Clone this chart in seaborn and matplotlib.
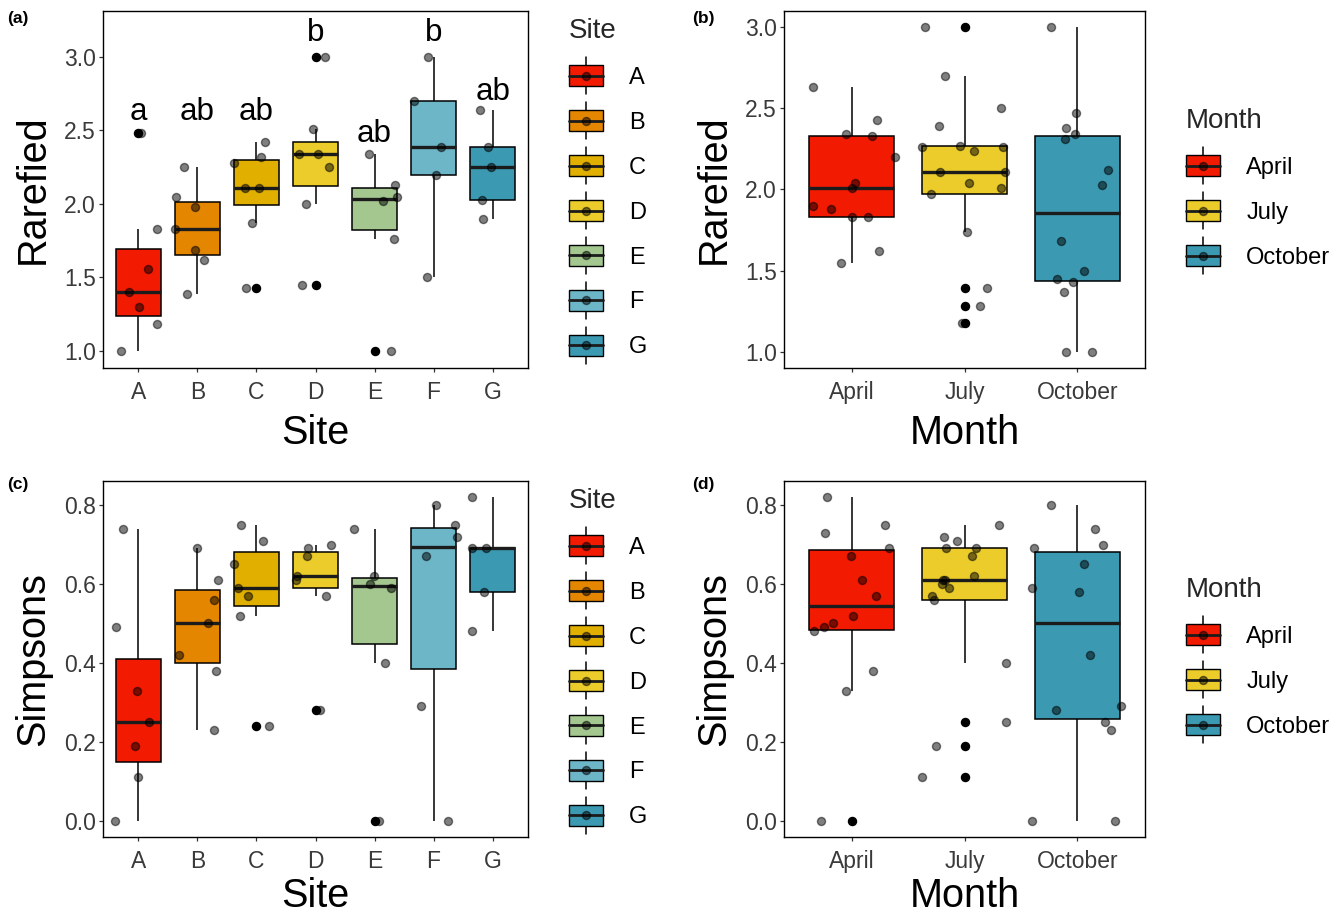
import numpy as np
import pandas as pd
import matplotlib
matplotlib.use("Agg")
import matplotlib.pyplot as plt
import seaborn as sns
from matplotlib.legend_handler import HandlerBase
from matplotlib.patches import Rectangle, Patch
from matplotlib.lines import Line2D

# ---------------- data ----------------
sites = ["A", "B", "C", "D", "E", "F", "G"]
months = ["April", "July", "October"]

site_colors = ["#F21A00", "#E58601", "#E1AF00", "#EBCC2A", "#A3C78F", "#6DB6C8", "#3B9AB2"]
month_colors = ["#F21A00", "#EBCC2A", "#3B9AB2"]

rarefied_by_site = [
    [2.48, 1.56, 1.40, 1.30, 1.83, 1.18, 1.00],
    [2.25, 2.05, 1.98, 1.83, 1.69, 1.62, 1.39],
    [2.42, 2.32, 2.28, 2.11, 2.11, 1.87, 1.43],
    [3.00, 2.51, 2.34, 2.34, 2.25, 2.00, 1.45],
    [2.34, 2.13, 2.05, 2.02, 1.76, 1.00],
    [3.00, 2.70, 2.39, 2.20, 1.50],
    [2.64, 2.39, 2.25, 2.03, 1.90],
]
rarefied_by_month = [
    [2.63, 2.43, 2.34, 2.33, 2.20, 2.04, 2.01, 1.90, 1.88, 1.83, 1.83, 1.62, 1.55],
    [3.00, 2.70, 2.50, 2.39, 2.27, 2.26, 2.26, 2.24, 2.11, 2.11, 2.04, 2.01, 1.97,
     1.74, 1.39, 1.28, 1.18],
    [3.00, 2.47, 2.38, 2.34, 2.31, 2.12, 2.03, 1.68, 1.50, 1.45, 1.43, 1.37, 1.00, 1.00],
]
simpsons_by_site = [
    [0.74, 0.49, 0.33, 0.25, 0.19, 0.11, 0.00],
    [0.69, 0.61, 0.56, 0.50, 0.42, 0.38, 0.23],
    [0.75, 0.71, 0.65, 0.59, 0.57, 0.52, 0.24],
    [0.70, 0.69, 0.67, 0.62, 0.61, 0.57, 0.28],
    [0.74, 0.62, 0.60, 0.59, 0.40, 0.00],
    [0.80, 0.75, 0.72, 0.67, 0.29, 0.00],
    [0.82, 0.69, 0.69, 0.58, 0.48],
]
simpsons_by_month = [
    [0.82, 0.75, 0.73, 0.69, 0.67, 0.61, 0.57, 0.52, 0.50, 0.49, 0.48, 0.38, 0.33, 0.00],
    [0.75, 0.72, 0.71, 0.69, 0.69, 0.67, 0.62, 0.61, 0.61, 0.60, 0.59, 0.57, 0.56,
     0.40, 0.25, 0.19, 0.11],
    [0.80, 0.74, 0.70, 0.69, 0.65, 0.59, 0.58, 0.42, 0.29, 0.28, 0.25, 0.23, 0.00, 0.00],
]

# significance letters over the site boxes and the height they sit at
site_letters = ["a", "ab", "ab", "b", "ab", "b", "ab"]
letter_heights = [2.57, 2.57, 2.57, 3.11, 2.42, 3.11, 2.71]


def long_frame(groups, labels, gname, vname):
    rows = [(lab, v) for lab, vals in zip(labels, groups) for v in vals]
    return pd.DataFrame(rows, columns=[gname, vname])


df_rs = long_frame(rarefied_by_site, sites, "Site", "Rarefied")
df_rm = long_frame(rarefied_by_month, months, "Month", "Rarefied")
df_ss = long_frame(simpsons_by_site, sites, "Site", "Simpsons")
df_sm = long_frame(simpsons_by_month, months, "Month", "Simpsons")

# ---------------- style ----------------
sns.set_theme(style="white")
plt.rcParams["font.family"] = ["Liberation Sans", "DejaVu Sans"]

W, H = 1342, 917
fig = plt.figure(figsize=(W / 100, H / 100), dpi=100)


def px_axes(left, top, right, bottom):
    return fig.add_axes([left / W, 1 - bottom / H, (right - left) / W, (bottom - top) / H])


ax_a = px_axes(103, 11, 528, 368)
ax_b = px_axes(784, 11, 1145, 368)
ax_c = px_axes(103, 481, 528, 837)
ax_d = px_axes(784, 481, 1145, 837)

point_kw = dict(color="black", alpha=0.5, size=5.8, linewidth=1.0,
                edgecolor="black", jitter=0.4, zorder=4)
flier_kw = dict(marker="o", markerfacecolor="black", markeredgecolor="black",
                markersize=5.8)


def draw_panel(ax, df, gname, vname, order, colors, seed, xpad):
    sns.boxplot(data=df, x=gname, y=vname, hue=gname, order=order, hue_order=order,
                palette=colors, saturation=1, width=0.75, linecolor="black",
                linewidth=1.1, showcaps=False, flierprops=flier_kw,
                medianprops=dict(color="#1c1c1c", linewidth=2.4),
                legend=False, ax=ax)
    np.random.seed(seed)
    sns.stripplot(data=df, x=gname, y=vname, order=order, ax=ax, **point_kw)
    ax.set_xlim(-0.6, len(order) - 0.4)
    for s in ax.spines.values():
        s.set_visible(True)
        s.set_color("black")
        s.set_linewidth(1.0)
    ax.tick_params(axis="both", which="both", bottom=True, left=True, length=3.2,
                   width=0.9, color="#333333", labelsize=16.5,
                   labelcolor="#3a3a3a")
    ax.tick_params(axis="x", pad=6.5)
    ax.tick_params(axis="y", pad=1.8)
    ax.set_xlabel(gname, fontsize=28.5, color="black", labelpad=xpad)
    ax.set_ylabel(vname, fontsize=28.5, color="black", labelpad=9)


draw_panel(ax_a, df_rs, "Site", "Rarefied", sites, site_colors, 3, 7)
draw_panel(ax_b, df_rm, "Month", "Rarefied", months, month_colors, 7, 7)
draw_panel(ax_c, df_ss, "Site", "Simpsons", sites, site_colors, 11, 2.5)
draw_panel(ax_d, df_sm, "Month", "Simpsons", months, month_colors, 5, 2.5)

ax_a.set_ylim(0.884, 3.313)
ax_b.set_ylim(0.9, 3.1)
for ax in (ax_a, ax_b):
    ax.set_yticks([1.0, 1.5, 2.0, 2.5, 3.0])
    ax.set_yticklabels(["1.0", "1.5", "2.0", "2.5", "3.0"])
for ax in (ax_c, ax_d):
    ax.set_ylim(-0.041, 0.861)
    ax.set_yticks([0.0, 0.2, 0.4, 0.6, 0.8])
    ax.set_yticklabels(["0.0", "0.2", "0.4", "0.6", "0.8"])

for i, (lab, h) in enumerate(zip(site_letters, letter_heights)):
    ax_a.text(i, h, lab, ha="center", va="baseline", fontsize=22.5, color="black")


# ---------------- legends ----------------
class BoxKey(HandlerBase):
    def create_artists(self, legend, orig_handle, xdescent, ydescent, width,
                       height, fontsize, trans):
        x0, y0 = -xdescent, -ydescent
        cx, cy = x0 + width / 2, y0 + height / 2
        ext = height * 0.38
        whisk = Line2D([cx, cx], [y0 - ext, y0 + height + ext], color="black",
                       lw=1.1, transform=trans)
        box = Rectangle((x0, y0), width, height, facecolor=orig_handle.get_facecolor(),
                        edgecolor="black", lw=1.0, transform=trans)
        med = Line2D([x0, x0 + width], [cy, cy], color="#1c1c1c", lw=2.0, transform=trans)
        dot = Line2D([cx], [cy], ls="", marker="o", markersize=5.8,
                     markerfacecolor=(0, 0, 0, 0.5), markeredgecolor=(0, 0, 0, 0.5),
                     markeredgewidth=1.0, transform=trans)
        return [whisk, box, med, dot]


def add_legend(ax, labels, colors, title, left, top):
    handles = [Patch(facecolor=c, edgecolor="black") for c in colors]
    leg = ax.legend(handles, labels, title=title, loc="upper left",
                    bbox_to_anchor=(left / W, 1 - top / H), bbox_transform=fig.transFigure,
                    frameon=False, fontsize=17, title_fontsize=20, borderpad=0,
                    borderaxespad=0, handlelength=1.45, handleheight=1.0,
                    handletextpad=1.1, labelspacing=0.9, alignment="left",
                    handler_map={Patch: BoxKey()})
    for t in leg.get_texts():
        t.set_color("black")
    return leg


add_legend(ax_a, sites, site_colors, "Site", 569, 18)
add_legend(ax_b, months, month_colors, "Month", 1186, 108)
add_legend(ax_c, sites, site_colors, "Site", 569, 488)
add_legend(ax_d, months, month_colors, "Month", 1186, 577)

# panel tags
for tag, x, y in [("(a)", 7, 18), ("(b)", 692, 18), ("(c)", 7, 485), ("(d)", 692, 485)]:
    fig.text(x / W, 1 - y / H, tag, fontsize=12.5, fontweight="bold", va="center",
             ha="left", color="black")

fig.savefig("out.png", dpi=100)
